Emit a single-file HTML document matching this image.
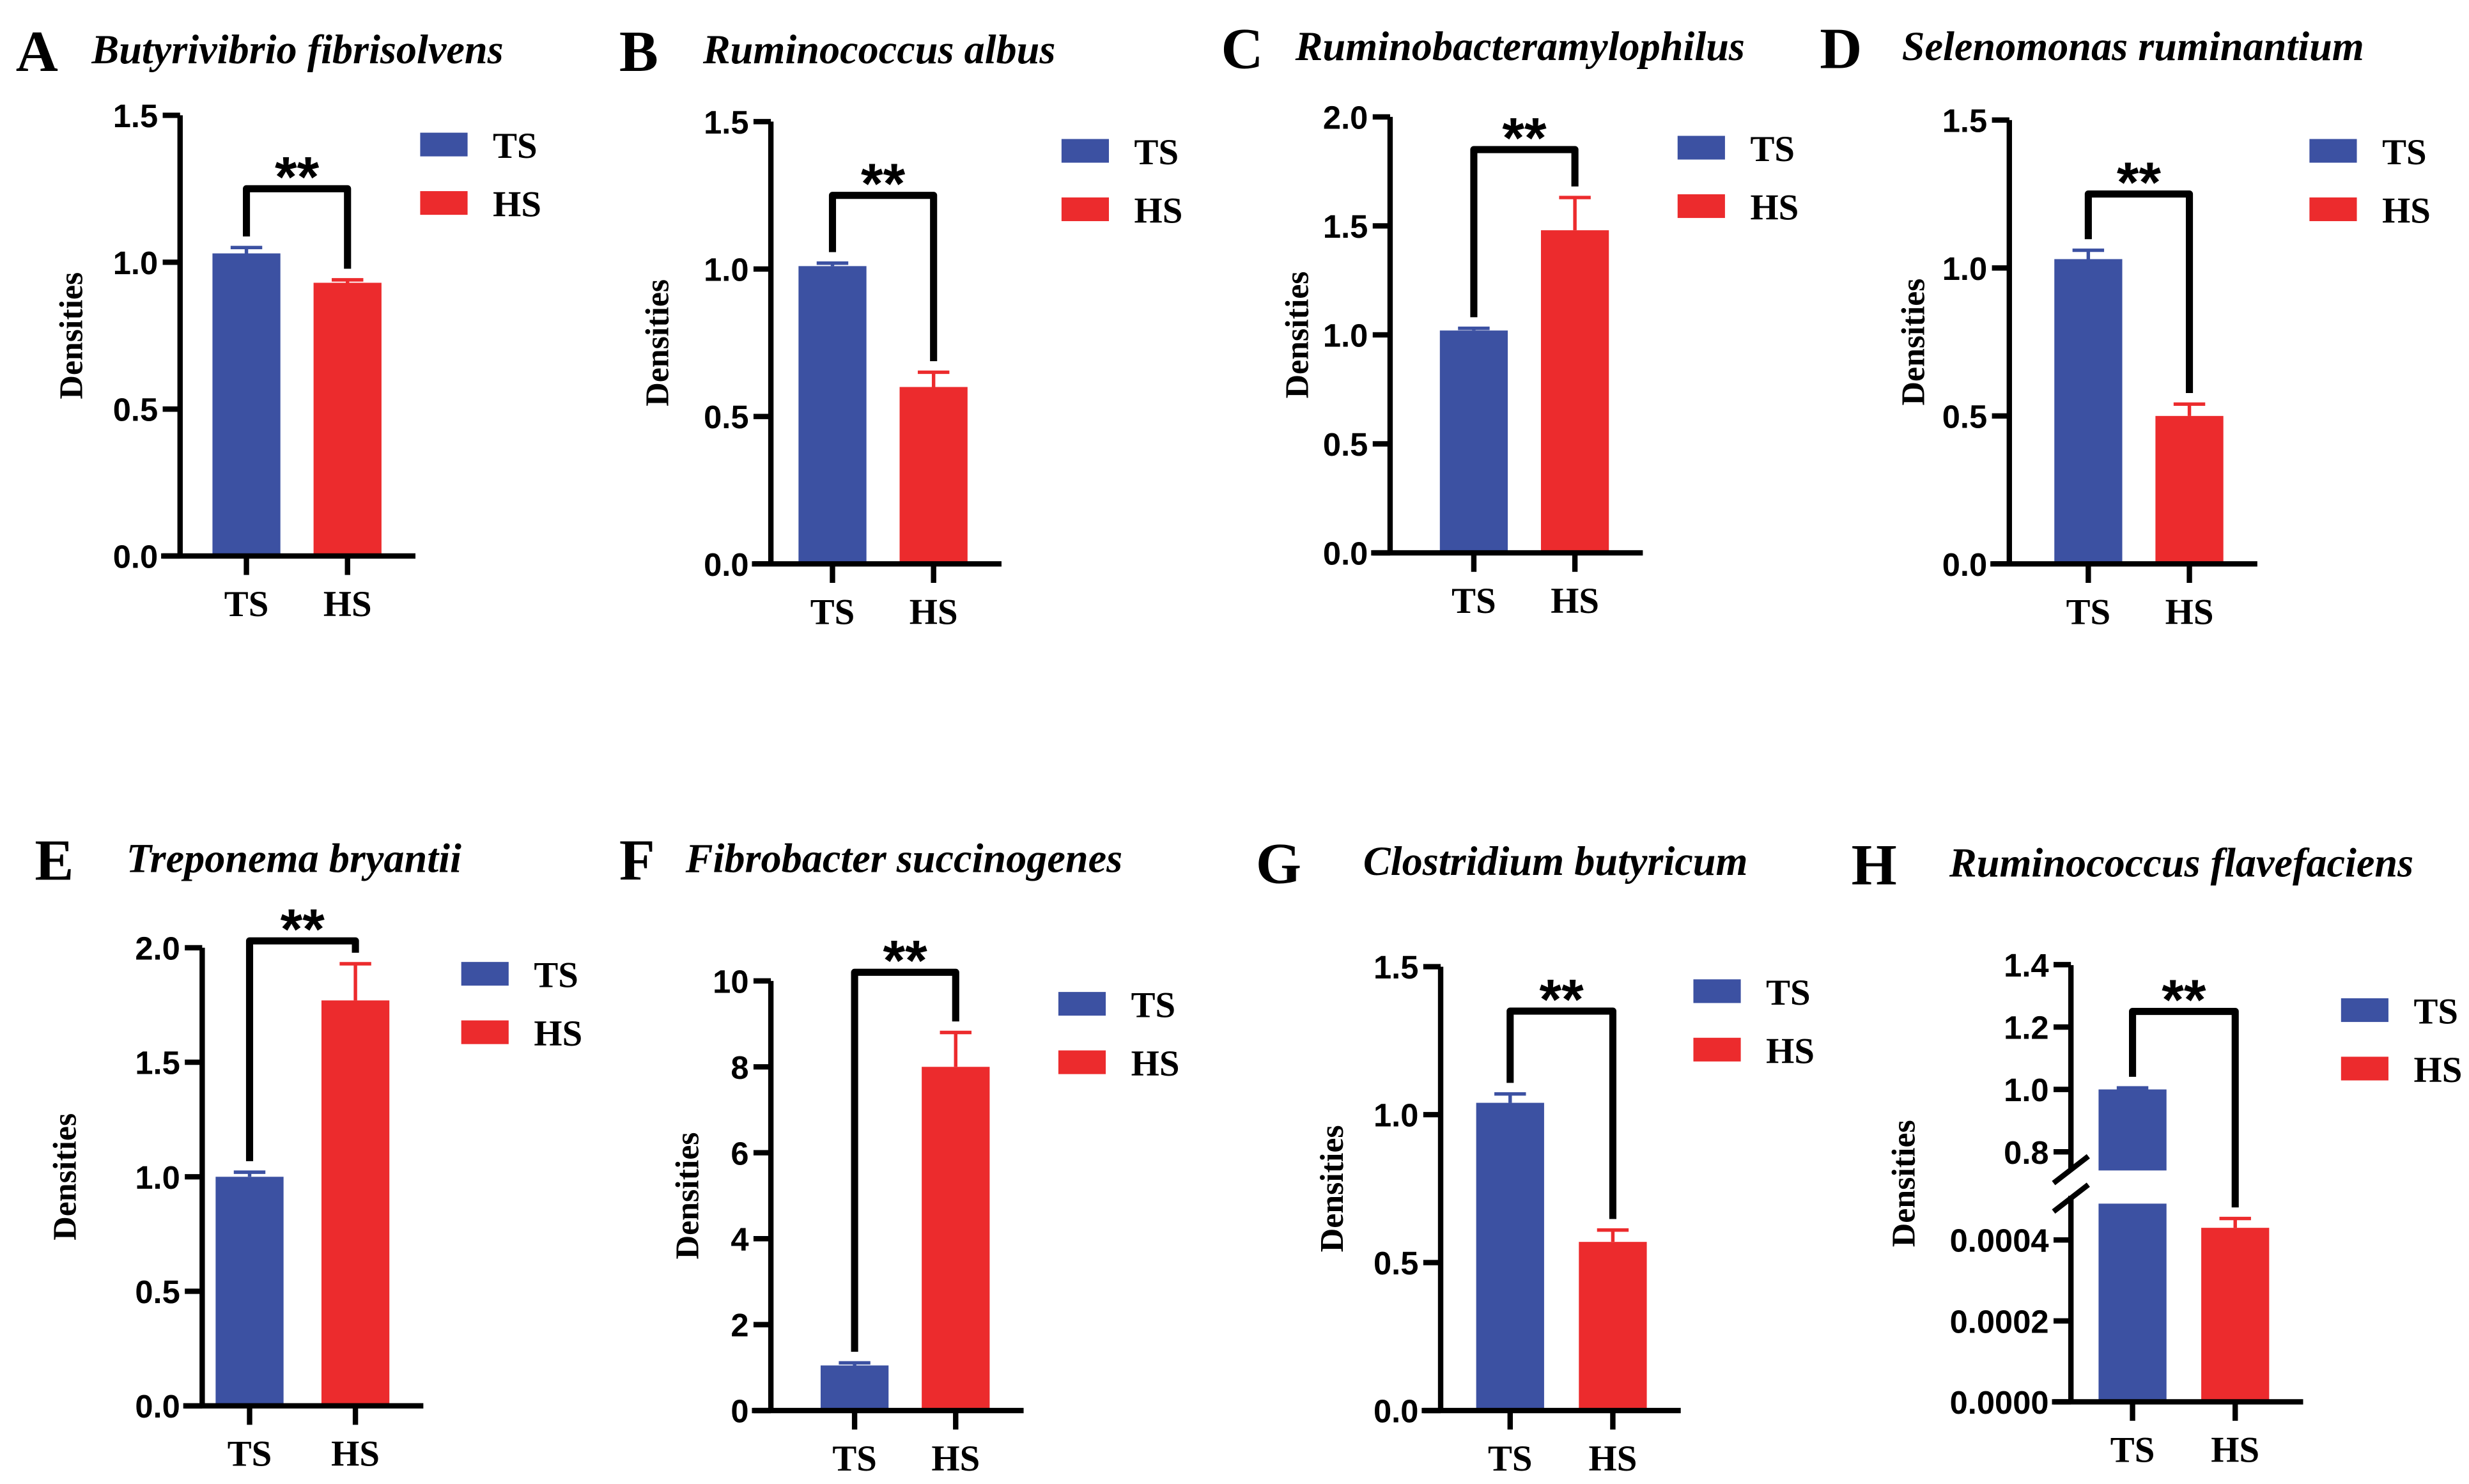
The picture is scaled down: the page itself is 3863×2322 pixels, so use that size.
<!DOCTYPE html>
<html><head><meta charset="utf-8"><style>
html,body{margin:0;padding:0;background:#fff}
svg{display:block}
.tk{font-family:"Liberation Sans",Arial,sans-serif;font-weight:bold;font-size:20.5px}
.st{font-family:"Liberation Sans",Arial,sans-serif;font-weight:bold;font-size:36px}
.tm{font-family:"Liberation Serif","Times New Roman",serif;font-weight:bold}
</style></head><body>
<svg id="fig" width="3863" height="2322" viewBox="0 0 1563 939.5" xmlns="http://www.w3.org/2000/svg"></svg>
<script>
const groups = ["TS","HS"];
const titles = ["Butyrivibrio fibrisolvens","Ruminococcus albus","Ruminobacteramylophilus","Selenomonas ruminantium","Treponema bryantii","Fibrobacter succinogenes","Clostridium butyricum","Ruminococcus flavefaciens"];
const letters = ["A","B","C","D","E","F","G","H"];
const tsValues = [1.03,1.01,1.02,1.03,1.00,1.05,1.04,1.00];
const tsErrors = [0.02,0.01,0.01,0.03,0.02,0.06,0.03,0.005];
const hsValues = [0.93,0.60,1.48,0.50,1.77,8.0,0.57,0.00043];
const hsErrors = [0.01,0.05,0.15,0.04,0.16,0.8,0.04,0.000023];
const bracketValues = [1.25,1.25,1.85,1.25,2.03,10.2,1.35,1.25];
const yMax = [1.5,1.5,2.0,1.5,2.0,10,1.5,1.4];
const tickLabelsA = ["0.0","0.5","1.0","1.5"];
const tickValuesA = [0,0.5,1,1.5];
const tickLabelsC = ["0.0","0.5","1.0","1.5","2.0"];
const tickValuesC = [0,0.5,1,1.5,2];
const tickLabelsF = ["0","2","4","6","8","10"];
const tickValuesF = [0,2,4,6,8,10];
const tickLabelsHlow = ["0.0000","0.0002","0.0004"];
const tickValuesHlow = [0,0.0002,0.0004];
const tickLabelsHhigh = ["0.8","1.0","1.2","1.4"];
const tickValuesHhigh = [0.8,1.0,1.2,1.4];

const L = [
 {ax:114,top:73,bot:352,ts:156,hs:220,lx:266,ly:84,ttlY:40,lt:10,tx:58,yl:52},
 {ax:488,top:77,bot:357,ts:527,hs:591,lx:672,ly:88,ttlY:40,lt:392,tx:445,yl:423},
 {ax:880,top:74,bot:350,ts:933,hs:997,lx:1062,ly:86,ttlY:38,lt:773,tx:820,yl:828},
 {ax:1272,top:76,bot:357,ts:1322,hs:1386,lx:1462,ly:88,ttlY:38,lt:1152,tx:1204,yl:1218},
 {ax:128,top:600,bot:890,ts:158,hs:225,lx:292,ly:609,ttlY:552,lt:22,tx:80,yl:48},
 {ax:488,top:621,bot:893,ts:541,hs:605,lx:670,ly:628,ttlY:552,lt:392,tx:434,yl:442},
 {ax:912,top:612,bot:893,ts:956,hs:1021,lx:1072,ly:620,ttlY:554,lt:795,tx:863,yl:850},
 {ax:1311,top:611,bot:887.5,ts:1350,hs:1415,lx:1482,ly:632,ttlY:555,lt:1172,tx:1234,yl:1212}
];
const NS="http://www.w3.org/2000/svg";
const svg=document.getElementById('fig');
const BLUE="#3c51a2", RED="#ec2b2d";
function mk(tag,attrs,parent){const e=document.createElementNS(NS,tag);for(const k in attrs)e.setAttribute(k,attrs[k]);(parent||svg).appendChild(e);return e;}
function txt(s,attrs,parent){const e=mk('text',attrs,parent);e.textContent=s;return e;}

for(let i=0;i<8;i++){
  const p=L[i];
  const g=mk('g',{});
  
  
  const isH=(i===7);
  let y;
  if(!isH){ y=v=>p.bot-(v/yMax[i])*(p.bot-p.top); }
  else { y=v=> v<0.01 ? p.bot-(v/0.0002)*51.25 : 689.7-(v-1.0)*197.5; }
  const bw=43;
  const lt=txt(letters[i],{x:p.lt,y:p.ttlY+5,class:'tm','font-size':37},g);
  
  
  const tt=txt(titles[i],{x:p.tx,y:p.ttlY,class:'tm','font-size':26,'font-style':'italic'},g);
  
  
  const vals=[tsValues[i],hsValues[i]], errs=[tsErrors[i],hsErrors[i]], xs=[p.ts,p.hs], cols=[BLUE,RED];
  for(let b=0;b<2;b++){
    const cx=xs[b];
    if(isH && b===0){
      const r1=mk('rect',{x:cx-bw/2,y:762,width:bw,height:p.bot-762,fill:cols[b]},g);
      
      
      const yt=y(vals[b]);
      const r2=mk('rect',{x:cx-bw/2,y:yt,width:bw,height:741-yt,fill:cols[b]},g);
      
      
    } else {
      const yt=y(vals[b]);
      const r=mk('rect',{x:cx-bw/2,y:yt,width:bw,height:p.bot-yt,fill:cols[b]},g);
      
      
    }
    const ye=y(vals[b]+errs[b]);
    const eb=mk('path',{d:`M${cx} ${y(vals[b])}V${ye}M${cx-10} ${ye}H${cx+10}`,stroke:cols[b],'stroke-width':2.2,fill:'none'},g);
    
    
  }
  const by=y(bracketValues[i]);
  const l1=y(vals[0]+errs[0])-7, l2=y(vals[1]+errs[1])-7;
  const br=mk('path',{d:`M${p.ts} ${l1}V${by}H${p.hs}V${l2}`,stroke:'#000','stroke-width':4.5,fill:'none','stroke-linejoin':'round'},g);
  
  
  const st=txt('**',{x:(p.ts+p.hs)/2,y:by+5,'text-anchor':'middle',class:'st'},g);
  
  
  const axW=3.4;
  let ticksV,ticksL;
  if(i===2||i===4){ticksV=tickValuesC;ticksL=tickLabelsC;}
  else if(i===5){ticksV=tickValuesF;ticksL=tickLabelsF;}
  else {ticksV=tickValuesA;ticksL=tickLabelsA;}
  if(isH){
    const a1=mk('path',{d:`M${p.ax} ${p.bot+1.5}V757M${p.ax} 741V${p.top}`,stroke:'#000','stroke-width':axW,fill:'none'},g);
    
    
    const sl=mk('path',{d:`M${p.ax-11} 749L${p.ax+11} 732M${p.ax-11} 767L${p.ax+11} 750`,stroke:'#000','stroke-width':axW},g);
    
    
    const all=[[tickValuesHlow,tickLabelsHlow],[tickValuesHhigh,tickLabelsHhigh]];
    for(const [tv,tl] of all){tv.forEach((v,k)=>{
      const yy=y(v);
      mk('line',{x1:p.ax-11,x2:p.ax,y1:yy,y2:yy,stroke:'#000','stroke-width':axW},g);
      const t=txt(tl[k],{x:p.ax-14,y:yy+7.5,'text-anchor':'end',class:'tk'},g);
      
      
    });}
  } else {
    const a1=mk('path',{d:`M${p.ax} ${p.bot+1.5}V${p.top}`,stroke:'#000','stroke-width':axW},g);
    
    
    ticksV.forEach((v,k)=>{
      const yy=y(v);
      mk('line',{x1:p.ax-11,x2:p.ax,y1:yy,y2:yy,stroke:'#000','stroke-width':axW},g);
      const t=txt(ticksL[k],{x:p.ax-14,y:yy+7.5,'text-anchor':'end',class:'tk'},g);
      
      
    });
  }
  const xa=mk('path',{d:`M${p.ax-12} ${p.bot}H${p.hs+43}`,stroke:'#000','stroke-width':axW},g);
  
  
  for(let b=0;b<2;b++){
    mk('line',{x1:xs[b],x2:xs[b],y1:p.bot,y2:p.bot+12,stroke:'#000','stroke-width':axW},g);
    const t=txt(groups[b],{x:xs[b],y:p.bot+38,'text-anchor':'middle',class:'tm','font-size':23},g);
    
    
  }
  const yl=txt('Densities',{x:0,y:0,transform:`translate(${p.yl},${(p.top+p.bot)/2}) rotate(-90)`,'text-anchor':'middle',class:'tm','font-size':21},g);
  
  
  for(let b=0;b<2;b++){
    const ly=p.ly+b*37;
    const r=mk('rect',{x:p.lx,y:ly,width:30,height:15,fill:cols[b]},g);
    
    
    const t=txt(groups[b],{x:p.lx+46,y:ly+16,class:'tm','font-size':23},g);
    
    
  }
}
</script>
</body></html>
